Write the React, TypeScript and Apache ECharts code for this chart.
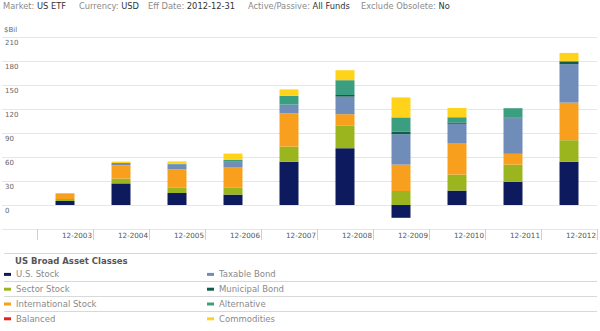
import React, { useEffect, useRef } from "react";
import * as echarts from "echarts";

const categories = ["12-2003", "12-2004", "12-2005", "12-2006", "12-2007", "12-2008", "12-2009", "12-2010", "12-2011", "12-2012"];
const usStock = [5, 27, 15, 13, 54, 71, -16, 18, 29, 54];
const sectorStock = [2.5, 6, 6.5, 8.5, 19, 28.5, 17.5, 20, 21.5, 27];
const intlStock = [6.5, 16.5, 23, 26, 41.5, 14, 33, 39.5, 13.5, 47];
const taxableBond = [0.5, 3, 6.5, 6, 11, 22, 38, 24, 44.5, 48];
const municipalBond = [0, 0, 0, 0.8, 0, 2, 3, 1.7, 0.5, 3.3];
const alternative = [0, 0, 0.5, 2, 11, 18.5, 18, 6.5, 12, 0.8];
const balanced = [0, 0, 0, 0, 0, 0, 0, 0, 0, 0];
const commodities = [0, 1.7, 3, 8, 8, 12.5, 25, 11.5, 0, 10];
const yTicks = { min: -30, max: 210, interval: 30 };

const headerLabels = ["Market:", "Currency:", "Eff Date:", "Active/Passive:", "Exclude Obsolete:"];
const headerValues = ["US ETF", "USD", "2012-12-31", "All Funds", "No"];

const seriesDefs = [
  { name: "U.S. Stock", data: usStock, color: "#0d1b5e" },
  { name: "Sector Stock", data: sectorStock, color: "#9ab51e" },
  { name: "International Stock", data: intlStock, color: "#f8a01e" },
  { name: "Taxable Bond", data: taxableBond, color: "#6f8db8" },
  { name: "Municipal Bond", data: municipalBond, color: "#115c4a" },
  { name: "Alternative", data: alternative, color: "#3c9e80" },
  { name: "Balanced", data: balanced, color: "#e3231b" },
  { name: "Commodities", data: commodities, color: "#fed31a" },
];
const legendOrder = ["U.S. Stock", "Taxable Bond", "Sector Stock", "Municipal Bond", "International Stock", "Alternative", "Balanced", "Commodities"];

const FONT = "DejaVu Sans";

export default function App() {
  const ref = useRef<HTMLDivElement>(null);
  useEffect(() => {
    document.body.style.margin = "0";
    const chart = echarts.init(ref.current!, null, { renderer: "svg" });
    const sepLine = (y: number) => ({
      type: "line",
      shape: { x1: 4, y1: y, x2: 597, y2: y },
      style: { stroke: "#d8d8d8", lineWidth: 1 },
      silent: true,
    });
    const headerX = [3, 79, 148, 248, 361];
    const header = headerLabels.map((l, i) => ({
      type: "text",
      left: headerX[i],
      top: 2,
      style: {
        text: `{l|${l}} {v|${headerValues[i]}}`,
        rich: {
          l: { fill: "#8a8a8a", fontSize: 8.3, fontFamily: FONT },
          v: { fill: "#333", fontSize: 8.3, fontFamily: FONT },
        },
        fontSize: 8.3,
        fontFamily: FONT,
      },
    }));
    chart.setOption({
      animation: false,
      textStyle: { fontFamily: FONT },
      grid: [
        { left: 2, right: 3, top: 37, bottom: 102 },
        { left: 37, right: 3, top: 37, bottom: 102 },
      ],
      xAxis: [
        { type: "value", gridIndex: 0, show: false, min: 0, max: 1 },
        {
          type: "category",
          gridIndex: 1,
          data: categories,
          axisLine: { show: false, onZero: false },
          axisTick: { show: true, length: 11, interval: 0, lineStyle: { color: "#cfcfcf" } },
          axisLabel: { interval: 0, fontSize: 7.2, color: "#555", margin: 3, padding: [0, 0, 0, 24], fontFamily: FONT },
        },
      ],
      yAxis: [
        {
          type: "value",
          gridIndex: 0,
          ...yTicks,
          axisLine: { show: false },
          axisTick: { show: false },
          splitLine: { lineStyle: { color: "#e6e6e6" } },
          axisLabel: {
            inside: true,
            margin: 3,
            align: "left",
            verticalAlign: "top",
            padding: [2, 0, 0, 0],
            fontSize: 7,
            color: "#666",
            fontFamily: FONT,
            formatter: (v: number) => (v < 0 ? "" : String(v)),
          },
        },
        { type: "value", gridIndex: 1, ...yTicks, show: false, splitLine: { show: false } },
      ],
      legend: {
        data: legendOrder,
        left: 4,
        top: 267,
        padding: 0,
        width: 420,
        orient: "horizontal",
        itemGap: 0,
        itemWidth: 7,
        itemHeight: 3,
        icon: "rect",
        selectedMode: false,
        textStyle: { fontFamily: FONT, fontSize: 8.5, color: "#8a8a8a", width: 191, lineHeight: 14.8 },
      },
      graphic: [
        ...header,
        { type: "text", left: 4, top: 26, style: { text: "$Bil", fontSize: 7, fill: "#666", fontFamily: FONT } },
        {
          type: "text",
          left: 15,
          top: 256,
          style: { text: "US Broad Asset Classes", fontSize: 8.5, fontWeight: "bold", fill: "#555", fontFamily: FONT },
        },
        sepLine(253.5),
        sepLine(281.5),
        sepLine(296.5),
        sepLine(311.5),
      ],
      series: seriesDefs.map((s) => ({
        name: s.name,
        type: "bar",
        stack: "total",
        xAxisIndex: 1,
        yAxisIndex: 1,
        barWidth: 19,
        data: s.data,
        itemStyle: { color: s.color },
      })),
    });
    return () => chart.dispose();
  }, []);
  return <div ref={ref} style={{ width: 600, height: 331 }} />;
}
